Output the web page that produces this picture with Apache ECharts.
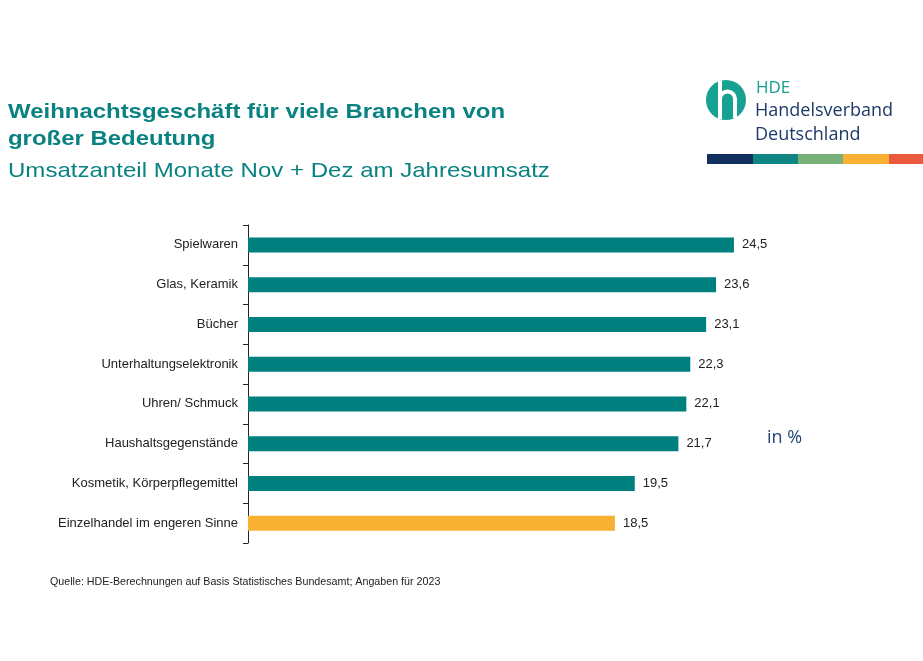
<!DOCTYPE html>
<html><head><meta charset="utf-8">
<script src="https://cdn.jsdelivr.net/npm/echarts@6/dist/echarts.min.js"></script>
<style>html,body{margin:0;padding:0;background:#fff}#c{width:923px;height:661px}</style>
</head><body><div id="c"></div>
<script>
const categories = ["Spielwaren","Glas, Keramik","Bücher","Unterhaltungselektronik","Uhren/ Schmuck","Haushaltsgegenstände","Kosmetik, Körperpflegemittel","Einzelhandel im engeren Sinne"];
const values = [24.5,23.6,23.1,22.3,22.1,21.7,19.5,18.5];
const highlight = [false,false,false,false,false,false,false,true];
const TEAL = '#007f7f', YELLOW = '#f8b133';
const chart = echarts.init(document.getElementById('c'), null, {renderer:'canvas'});
chart.setOption({
  animation:false,
  backgroundColor:'#fff',
  grid:{left:248, right:80, top:225, bottom:118},
  xAxis:{type:'value', min:0, max:30, show:false},
  yAxis:{type:'category', inverse:true, data:categories,
    axisLine:{show:true, lineStyle:{color:'#222', width:1}},
    axisTick:{show:true, length:5, lineStyle:{color:'#222'}},
    axisLabel:{color:'#222', fontFamily:'Arial, Liberation Sans', fontSize:13, margin:10}},
  series:[{type:'bar', barWidth:15,
    data: values.map((v,i)=>({value:v, itemStyle:{color: highlight[i]?YELLOW:TEAL}})),
    label:{show:true, position:'right', distance:8, color:'#222', fontFamily:'Arial, Liberation Sans', fontSize:13,
      formatter:p=>String(p.value).replace('.',',')}}],
  graphic:[
    {type:'text', x:8, y:99, scaleX:1.14, style:{text:'Weihnachtsgeschäft für viele Branchen von\ngroßer Bedeutung', fill:'#0a8282', font:'bold 21px Arial, Liberation Sans', lineHeight:27, verticalAlign:'top'}},
    {type:'text', x:8, y:161, scaleX:1.145, style:{text:'Umsatzanteil Monate Nov + Dez am Jahresumsatz', fill:'#0a8282', font:'21px Arial, Liberation Sans', verticalAlign:'top'}},
    {type:'circle', shape:{cx:726, cy:100, r:20}, style:{fill:'#16a192'}},
    {type:'rect', shape:{x:718, y:81, width:4, height:38}, style:{fill:'#fff'}},
    {type:'arc', shape:{cx:727.5, cy:99, r:7.5, startAngle:Math.PI, endAngle:2*Math.PI}, style:{fill:null, stroke:'#fff', lineWidth:4}},
    {type:'rect', shape:{x:733, y:98.5, width:4, height:19.5}, style:{fill:'#fff'}},
    {type:'text', left:756, top:80, style:{text:'HDE', fill:'#16a192', font:'17px Open Sans, Arial'}},
    {type:'text', left:755, top:102, style:{text:'Handelsverband', fill:'#1b3a6a', font:'18px Open Sans, Arial'}},
    {type:'text', left:755, top:126, style:{text:'Deutschland', fill:'#1b3a6a', font:'18px Open Sans, Arial'}},
    {type:'rect', shape:{x:707, y:154, width:46, height:10}, style:{fill:'#11305e'}},
    {type:'rect', shape:{x:753, y:154, width:45, height:10}, style:{fill:'#0f8584'}},
    {type:'rect', shape:{x:798, y:154, width:45, height:10}, style:{fill:'#78b07a'}},
    {type:'rect', shape:{x:843, y:154, width:46, height:10}, style:{fill:'#f8b133'}},
    {type:'rect', shape:{x:889, y:154, width:34, height:10}, style:{fill:'#ec5a3d'}},
    {type:'text', left:767, top:429, style:{text:'in %', fill:'#23477a', font:'18px Open Sans, Arial'}},
    {type:'text', left:50, top:577, style:{text:'Quelle: HDE-Berechnungen auf Basis Statistisches Bundesamt; Angaben für 2023', fill:'#222', font:'10.7px Arial, Liberation Sans'}}
  ]
});
</script></body></html>
